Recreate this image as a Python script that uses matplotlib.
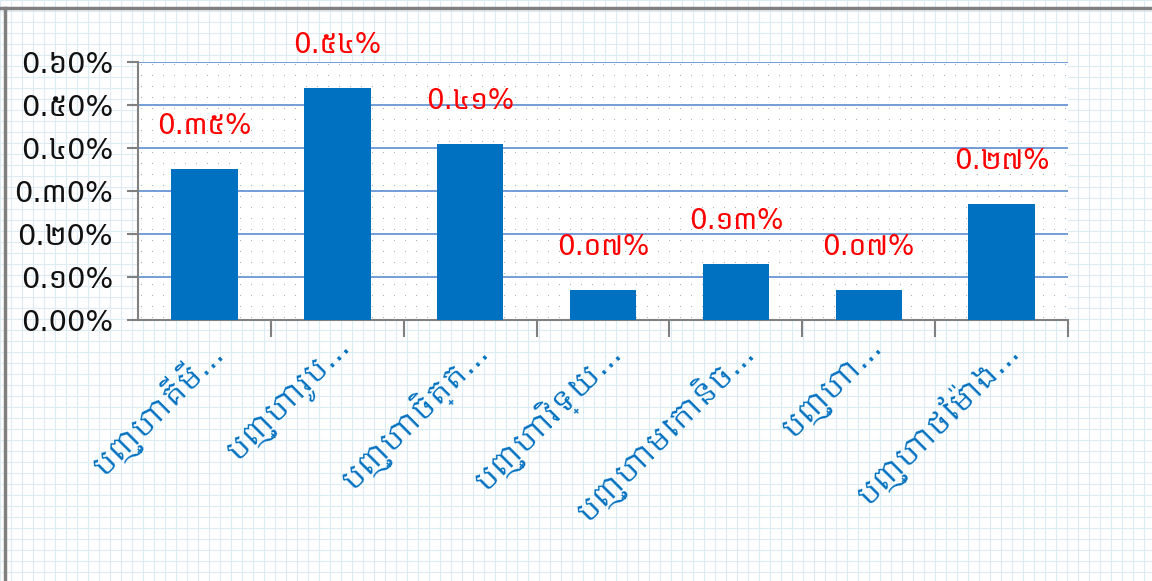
import matplotlib
matplotlib.use('Agg')
import matplotlib.pyplot as plt
from matplotlib import font_manager
import numpy as np

# data
categories = ['បញ្ហាគីមី…', 'បញ្ហារូប…', 'បញ្ហាចិត្ត…', 'បញ្ហាវិទ្យ…',
              'បញ្ហាមេកានិច…', 'បញ្ហា…', 'បញ្ហាថែម៉ោង…']
values = [0.35, 0.54, 0.41, 0.07, 0.13, 0.07, 0.27]
value_labels = ['0.៣៥%', '0.៥៤%', '0.៤១%', '0.០៧%', '0.១៣%', '0.០៧%', '0.២៧%']
y_ticks = [0.0, 0.1, 0.2, 0.3, 0.4, 0.5, 0.6]
y_tick_labels = ['0.00%', '0.១0%', '0.២0%', '0.៣0%', '0.៤0%', '0.៥0%', '0.៦0%']

# khmer font for the khmer glyphs, dejavu for the rest
names = set(f.name for f in font_manager.fontManager.ttflist)
khmer = [n for n in ['Noto Sans Khmer', 'Khmer', 'Noto Sans Khmer UI'] if n in names]
khmer2 = [n for n in ['Khmer', 'Hanuman', 'Noto Sans Khmer'] if n in names]
plt.rcParams['font.family'] = ['DejaVu Sans'] + khmer[:1]

fig = plt.figure(figsize=(11.52, 5.81), dpi=100, facecolor='white')

# graph paper background
bg = fig.add_axes([0, 0, 1, 1], zorder=-10)
bg.set_xlim(0, 1152)
bg.set_ylim(581, 0)
bg.axis('off')
for gx in np.arange(0, 1152, 11):
    bg.axvline(gx, color='#dcecf4', lw=0.8)
for gy in np.arange(0, 581, 11):
    bg.axhline(gy, color='#dcecf4', lw=0.8)
bg.axhline(8, xmin=0, xmax=1, color='#808080', lw=2.5)
bg.axvline(5, ymin=0, ymax=1 - 8 / 581, color='#808080', lw=2.5)

ax = fig.add_axes([138 / 1152, 1 - 320 / 581, 930 / 1152, 258 / 581])
ax.set_facecolor('white')
# dotted plot-area fill
xs, ys = np.meshgrid(np.arange(3, 930, 11) / 930, np.arange(3, 258, 11) / 258)
ax.scatter(xs.ravel(), ys.ravel(), s=0.6, color='#9aa6b0', transform=ax.transAxes,
           zorder=0, linewidths=0)

x = np.arange(len(categories))
ax.bar(x, values, width=0.5, color='#0070c0', zorder=3)
ax.set_xlim(-0.5, len(categories) - 0.5)
ax.set_ylim(0, 0.6)

for i, (v, lab) in enumerate(zip(values, value_labels)):
    ax.annotate(lab, (x[i], v), xytext=(0, 31), textcoords='offset points',
                ha='center', va='center', color='#ff0000', fontsize=20)

ax.set_yticks(y_ticks)
ax.set_yticklabels(y_tick_labels, fontsize=21, color='#111111')
ax.yaxis.grid(True, color='#5b8bd0', lw=1.2, zorder=1)
ax.set_axisbelow(True)

ax.set_xticks(x)
ax.set_xticklabels(categories, rotation=45, ha='right', rotation_mode='anchor',
                   fontsize=21, color='#0070c0', family=['DejaVu Sans'] + khmer2[:1])
ax.set_xticks(np.arange(len(categories)) + 0.5, minor=True)
ax.tick_params(axis='x', which='major', length=0, pad=10)
ax.tick_params(axis='x', which='minor', length=12, color='#808080', width=1.5)
ax.tick_params(axis='y', length=8, color='#808080', width=1.5, pad=10)

for s in ['top', 'right']:
    ax.spines[s].set_visible(False)
for s in ['left', 'bottom']:
    ax.spines[s].set_color('#808080')
    ax.spines[s].set_linewidth(1.5)

fig.savefig('out.png', dpi=100)
